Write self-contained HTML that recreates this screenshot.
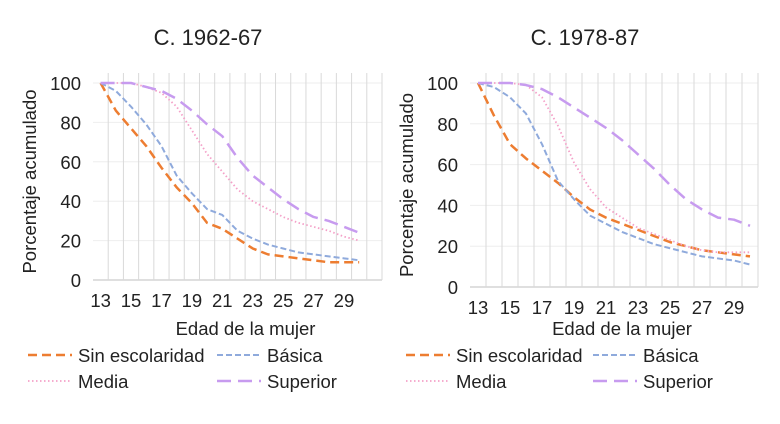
<!DOCTYPE html>
<html><head><meta charset="utf-8">
<style>
body{margin:0;background:#fff;font-family:"Liberation Sans",Arial,sans-serif;}
svg text{font-family:"Liberation Sans",Arial,sans-serif;fill:#222;}
</style></head>
<body>
<svg id="c" width="780" height="419" viewBox="0 0 780 419"></svg>
<script>
const ages=[13,14,15,16,17,18,19,20,21,22,23,24,25,26,27,28,29,30];
const yTicks=[0,20,40,60,80,100];
const xTickLabels=[13,15,17,19,21,23,25,27,29];
const seriesNames=["Sin escolaridad","Básica","Media","Superior"];
const p1Sin=[100,86,77,68,57,47,39,29,26,21,16,13,12,11,10,9,9,9];
const p1Bas=[100,96,88,79,68,53,44,36,33,25,21,18,16,14,13,12,11,10];
const p1Med=[100,100,100,98,95,88,76,64,55,46,40,36,32,29,27,25,22,20];
const p1Sup=[100,100,100,98,96,92,86,79,73,62,53,47,41,36,32,30,27,24];
const p2Sin=[100,84,70,63,57,51,44,38,34,31,28,25,22,20,18,17,16,15];
const p2Bas=[100,98,93,85,70,52,43,35,31,27,24,21,19,17,15,14,13,11];
const p2Med=[100,100,100,99,93,79,61,48,39,34,29,26,23,20,18,17,17,17];
const p2Sup=[100,100,100,99,97,93,88,83,78,72,65,58,50,43,38,34,33,30];

const NS="http://www.w3.org/2000/svg";
const svg=document.getElementById('c');
function mk(tag,attrs,parent,text){const e=document.createElementNS(NS,tag);for(const k in attrs)e.setAttribute(k,attrs[k]);if(text!==undefined)e.textContent=text;(parent||svg).appendChild(e);return e;}
const styles=[
 {c:"#ED7D31",w:2.5,d:"9,5"},
 {c:"#8FAADC",w:2,d:"6,3"},
 {c:"#F4A0C8",w:1.8,d:"1.5,2.5"},
 {c:"#C79BEF",w:2.5,d:"14,7"}];

function chart(id,L,R,T,B,nCats,title,tx,data,legendX){
  const g=mk('g',{});
  
  
  const step=(R-L)/nCats;
  const xf=i=>L+step*(i+0.5);
  const yf=v=>B-(B-T)*v/100;
  yTicks.forEach(v=>{const l=mk('line',{x1:L,x2:R,y1:yf(v),y2:yf(v),stroke:v===0?'#bfbfbf':'#eeeeee','stroke-width':1},g);
    
    const t=mk('text',{x:L-12,y:yf(v)+7,'text-anchor':'end','font-size':18.5},g,String(v));
    });
  for(let i=1;i<=nCats;i++){const l=mk('line',{x1:L+step*i,x2:L+step*i,y1:T-10,y2:B,stroke:'#d9d9d9','stroke-width':1},g);
    }
  xTickLabels.forEach(a=>{const i=ages.indexOf(a);const t=mk('text',{x:xf(i),y:B+27,'text-anchor':'middle','font-size':18.5},g,String(a));
    });
  data.forEach((arr,si)=>{const s=styles[si];
    const p=mk('polyline',{points:arr.map((v,i)=>xf(i)+','+yf(v)).join(' '),fill:'none',stroke:s.c,'stroke-width':s.w,'stroke-dasharray':s.d,'stroke-linejoin':'round'},g);
    
    });
  const tt=mk('text',{x:tx,y:45,'text-anchor':'middle','font-size':22},g,title);
  
  const yt=mk('text',{transform:`translate(${L-57},${(T+B)/2}) rotate(-90)`,'text-anchor':'middle','font-size':18.5},g,'Porcentaje acumulado');
  
  const xt=mk('text',{x:(L+R)/2+8,y:335,'text-anchor':'middle','font-size':18.5},g,'Edad de la mujer');
  
  const lp=[[legendX[0],355],[legendX[1],355],[legendX[0],381],[legendX[2],381]];
  seriesNames.forEach((n,si)=>{const s=styles[si];const [x,y]=lp[si];
    const lg=mk('g',{},g);
    
    mk('line',{x1:x,x2:x+44,y1:y,y2:y,stroke:s.c,'stroke-width':s.w,'stroke-dasharray':s.d},lg);
    mk('text',{x:x+50,y:y+7,'font-size':18.5},lg,n);});
}
chart('chart-1962-67',93,382,83,280,19,'C. 1962-67',208,[p1Sin,p1Bas,p1Med,p1Sup],[28,217,217]);
chart('chart-1978-87',470,758,83,287,18,'C. 1978-87',585,[p2Sin,p2Bas,p2Med,p2Sup],[406,593,593]);
</script>
</body></html>
